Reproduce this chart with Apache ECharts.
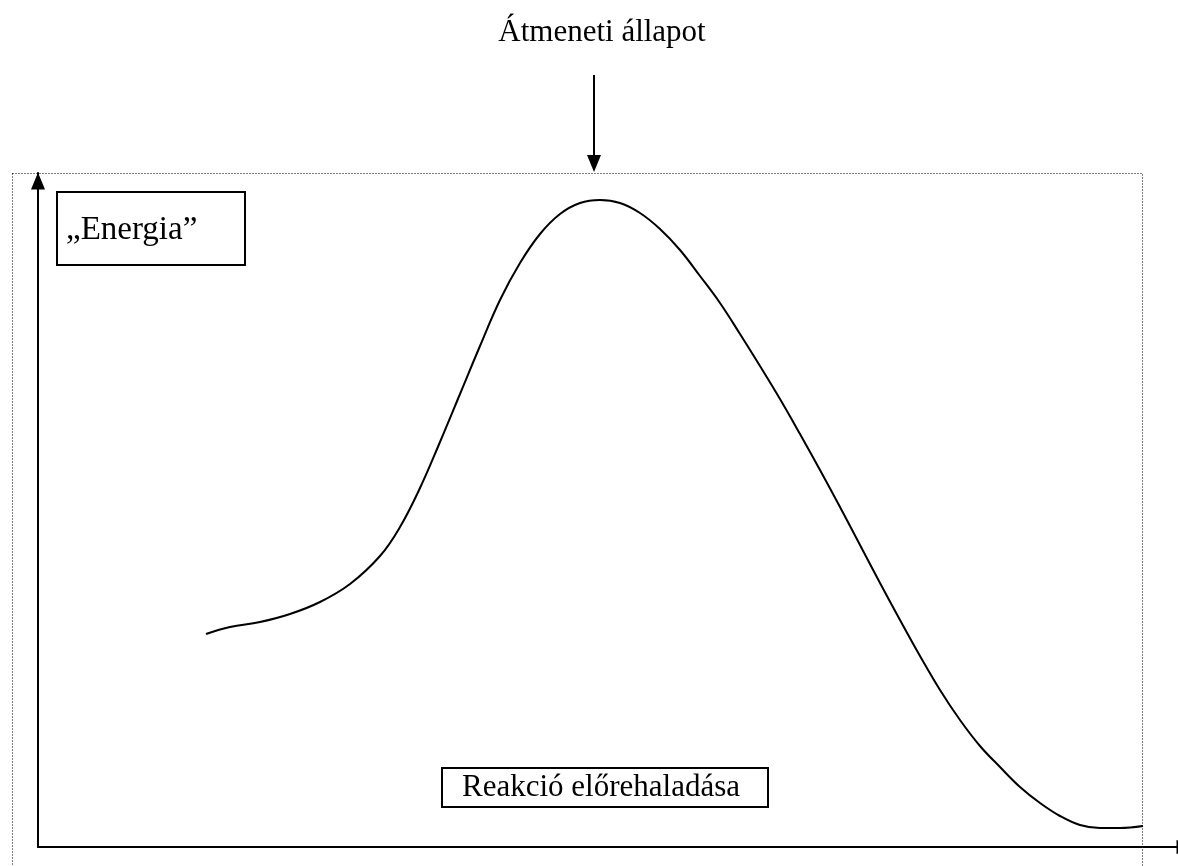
<!DOCTYPE html>
<html><head><meta charset="utf-8">
<script src="https://cdn.jsdelivr.net/npm/echarts@6/dist/echarts.min.js"></script>
<style>html,body{margin:0;padding:0;background:#fff}#c{width:1178px;height:866px}</style>
</head><body><div id="c"></div>
<script>
// Reaction progress (arbitrary units) and energy (arbitrary units)
const progress = [16.8,19.2,22.2,25.2,28.2,31.2,34.2,36.2,38.2,40.2,42.2,44.2,46.2,48.2,50.2,52.2,54.2,56.2,58.2,60.2,62.2,64.2,66.2,68.2,70.2,72.2,74.2,76.2,78.2,80.2,82.2,84.2,86.2,88.2,90.2,92.2,94.2,96.2,98.2,100.2,102.2,104.2,106.2,108.2,110.5];
const energy   = [21.3,22.0,22.5,23.3,24.5,26.3,29.1,32.0,35.9,40.5,45.3,50.1,54.7,58.4,61.3,63.3,64.4,64.7,64.4,63.4,61.8,59.7,57.1,54.4,51.3,48.1,44.8,41.3,37.7,34.0,30.2,26.4,22.7,19.1,15.7,12.7,10.1,8.0,6.0,4.4,3.1,2.2,1.9,1.9,2.1];
const titleText = 'Átmeneti állapot';
const yLabel = '„Energia”';
const xLabel = 'Reakció előrehaladása';

const FONT = '"Liberation Serif", "Times New Roman", serif';
const chart = echarts.init(document.getElementById('c'), null, {renderer: 'canvas'});
const axisLine = {
  show: true,
  symbol: ['none', 'triangle'],
  symbolSize: [14, 17],
  symbolOffset: [0, -8],
  lineStyle: {color: '#000', width: 2}
};
chart.setOption({
  backgroundColor: '#fff',
  animation: false,
  grid: {left: 38, top: 173, width: 1155, height: 674, containLabel: false, outerBoundsMode: 'none'},
  xAxis: {type: 'value', min: 0, max: 115.5, axisLine: axisLine, axisTick: {show: false}, axisLabel: {show: false}, splitLine: {show: false}},
  yAxis: {type: 'value', min: 0, max: 67.4, axisLine: axisLine, axisTick: {show: false}, axisLabel: {show: false}, splitLine: {show: false}},
  series: [{
    type: 'line', smooth: 0.4, showSymbol: false, z: 5,
    lineStyle: {color: '#000', width: 2},
    data: progress.map((x, i) => [x, energy[i]])
  }],
  graphic: [
    {type: 'rect', z: 0, shape: {x: 12.5, y: 173.5, width: 1130, height: 720},
     style: {fill: 'none', stroke: '#000', lineWidth: 1, lineDash: [1, 2]}},
    {type: 'text', z: 10, x: 602, y: 33,
     style: {text: titleText, font: '31px ' + FONT, fill: '#000', textAlign: 'center', textVerticalAlign: 'middle'}},
    {type: 'line', z: 10, shape: {x1: 594, y1: 75, x2: 594, y2: 158}, style: {stroke: '#000', lineWidth: 2}},
    {type: 'polygon', z: 10, shape: {points: [[587, 155], [601, 155], [594, 172]]}, style: {fill: '#000'}},
    {type: 'rect', z: 10, shape: {x: 57, y: 192, width: 188, height: 73}, style: {fill: '#fff', stroke: '#000', lineWidth: 2}},
    {type: 'text', z: 11, x: 66, y: 230,
     style: {text: yLabel, font: '33px ' + FONT, fill: '#000', textAlign: 'left', textVerticalAlign: 'middle'}},
    {type: 'rect', z: 10, shape: {x: 442, y: 768, width: 326, height: 39}, style: {fill: '#fff', stroke: '#000', lineWidth: 2}},
    {type: 'text', z: 11, x: 462, y: 788,
     style: {text: xLabel, font: '31px ' + FONT, fill: '#000', textAlign: 'left', textVerticalAlign: 'middle'}}
  ]
});
</script>
</body></html>
